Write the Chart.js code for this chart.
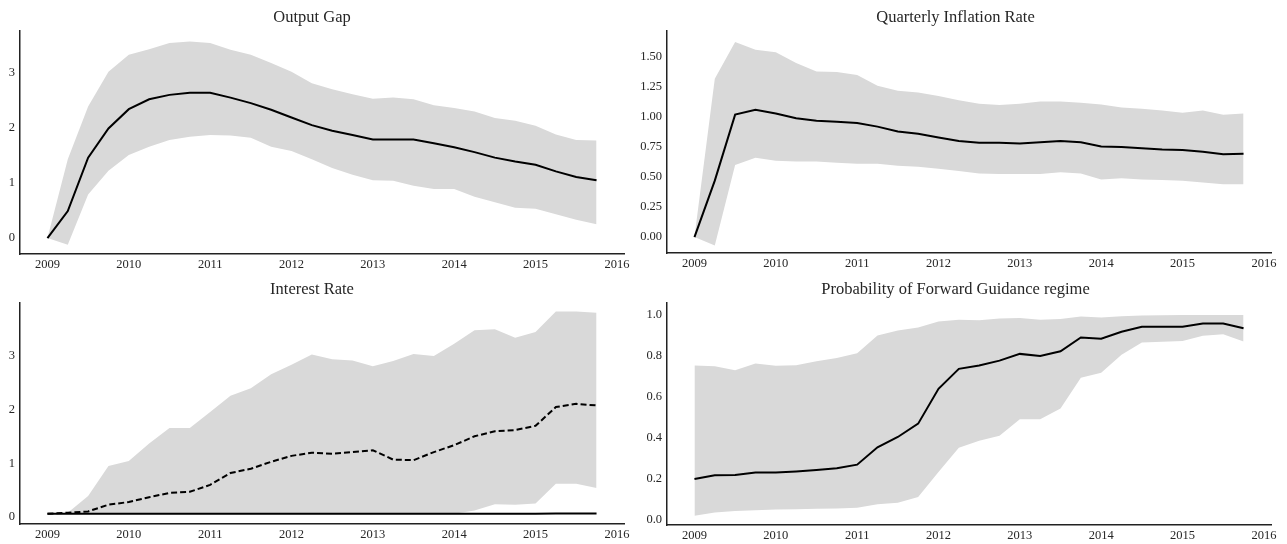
<!DOCTYPE html>
<html>
<head>
<meta charset="utf-8">
<script src="https://cdn.jsdelivr.net/npm/chart.js@4.4.1/dist/chart.umd.min.js"></script>
<style>
  body { margin: 0; background: #fff; }
  #wrap { position: relative; width: 1287px; height: 544px; }
  canvas { position: absolute; }
</style>
</head>
<body>
<div id="wrap">
  <canvas id="gapChart" width="640" height="272" style="left:0;top:0"></canvas>
  <canvas id="inflChart" width="647" height="272" style="left:640px;top:0"></canvas>
  <canvas id="rateChart" width="640" height="272" style="left:0;top:272px"></canvas>
  <canvas id="fgChart" width="647" height="272" style="left:640px;top:272px"></canvas>
</div>
<script>
const quarters = [2009.00, 2009.25, 2009.50, 2009.75, 2010.00, 2010.25, 2010.50, 2010.75,
                  2011.00, 2011.25, 2011.50, 2011.75, 2012.00, 2012.25, 2012.50, 2012.75,
                  2013.00, 2013.25, 2013.50, 2013.75, 2014.00, 2014.25, 2014.50, 2014.75,
                  2015.00, 2015.25, 2015.50, 2015.75];
const yearTicks = [2009, 2010, 2011, 2012, 2013, 2014, 2015, 2016];

// Output Gap
const gapMedian = [0, 0.49, 1.46, 1.99, 2.34, 2.52, 2.60, 2.64, 2.64, 2.55, 2.45, 2.33, 2.19, 2.05,
                   1.95, 1.87, 1.79, 1.79, 1.79, 1.72, 1.65, 1.56, 1.46, 1.39, 1.33, 1.21, 1.11, 1.05];
const gapUpper = [0, 1.43, 2.39, 3.02, 3.33, 3.43, 3.54, 3.57, 3.54, 3.42, 3.33, 3.18, 3.02, 2.81,
                  2.70, 2.61, 2.53, 2.55, 2.52, 2.41, 2.36, 2.30, 2.18, 2.13, 2.04, 1.88, 1.78, 1.77];
const gapLower = [0, -0.12, 0.79, 1.22, 1.51, 1.66, 1.78, 1.84, 1.87, 1.86, 1.82, 1.66, 1.58, 1.43,
                  1.27, 1.15, 1.05, 1.04, 0.95, 0.89, 0.89, 0.75, 0.65, 0.55, 0.53, 0.43, 0.33, 0.25];

// Quarterly Inflation Rate
const inflMedian = [0, 0.47, 1.02, 1.06, 1.03, 0.99, 0.97, 0.96, 0.95, 0.92, 0.88, 0.86, 0.83, 0.80,
                    0.785, 0.785, 0.78, 0.79, 0.80, 0.79, 0.755, 0.75, 0.74, 0.73, 0.725, 0.71, 0.69, 0.695];
const inflUpper = [0, 1.32, 1.625, 1.56, 1.54, 1.45, 1.38, 1.375, 1.35, 1.26, 1.22, 1.205, 1.175, 1.14,
                   1.11, 1.10, 1.11, 1.13, 1.13, 1.12, 1.105, 1.08, 1.07, 1.055, 1.035, 1.055, 1.02, 1.03];
const inflLower = [0, -0.07, 0.60, 0.66, 0.635, 0.63, 0.63, 0.62, 0.61, 0.61, 0.595, 0.585, 0.57, 0.55,
                   0.53, 0.525, 0.525, 0.525, 0.54, 0.53, 0.48, 0.49, 0.48, 0.475, 0.47, 0.455, 0.44, 0.44];

// Interest Rate
const rateSolid = [0.06, 0.06, 0.06, 0.06, 0.06, 0.06, 0.06, 0.06, 0.06, 0.06, 0.06, 0.06, 0.06, 0.06,
                   0.06, 0.06, 0.06, 0.06, 0.06, 0.06, 0.06, 0.06, 0.06, 0.06, 0.06, 0.065, 0.065, 0.065];
const rateDashed = [0.06, 0.08, 0.105, 0.23, 0.28, 0.37, 0.45, 0.47, 0.60, 0.82, 0.90, 1.03, 1.14, 1.20,
                    1.18, 1.21, 1.245, 1.07, 1.06, 1.21, 1.34, 1.505, 1.60, 1.62, 1.70, 2.05, 2.11, 2.08];
const rateUpper = [0.06, 0.08, 0.39, 0.95, 1.045, 1.37, 1.66, 1.66, 1.96, 2.26, 2.40, 2.66, 2.84, 3.03,
                   2.94, 2.92, 2.81, 2.91, 3.04, 3.00, 3.23, 3.48, 3.50, 3.34, 3.45, 3.83, 3.83, 3.81];
const rateLower = [0.06, 0.06, 0.06, 0.06, 0.06, 0.06, 0.06, 0.06, 0.06, 0.06, 0.06, 0.06, 0.06, 0.06,
                   0.06, 0.06, 0.06, 0.06, 0.06, 0.06, 0.06, 0.12, 0.24, 0.23, 0.25, 0.62, 0.62, 0.54];

// Probability of Forward Guidance regime
const fgMedian = [0.20, 0.218, 0.22, 0.232, 0.232, 0.237, 0.244, 0.253, 0.27, 0.355, 0.405, 0.47, 0.64, 0.737,
                  0.753, 0.777, 0.81, 0.80, 0.823, 0.89, 0.884, 0.918, 0.942, 0.942, 0.942, 0.958, 0.958, 0.935];
const fgUpper = [0.753, 0.75, 0.73, 0.763, 0.752, 0.755, 0.774, 0.79, 0.813, 0.90, 0.924, 0.939, 0.968, 0.976,
                 0.974, 0.982, 0.985, 0.976, 0.98, 0.992, 0.987, 0.994, 0.997, 0.998, 1.0, 1.0, 1.0, 1.0];
const fgLower = [0.021, 0.037, 0.044, 0.048, 0.052, 0.053, 0.055, 0.056, 0.06, 0.077, 0.085, 0.113, 0.234, 0.352,
                 0.387, 0.411, 0.492, 0.492, 0.544, 0.694, 0.718, 0.806, 0.866, 0.869, 0.873, 0.898, 0.906, 0.87];

const serif = "'Liberation Serif', 'DejaVu Serif', serif";
const textColor = '#262626';
const bandColor = '#d9d9d9';

function pts(vals) {
  return vals.map((v, i) => ({ x: quarters[i], y: v }));
}

function makeChart(id, spec) {
  const datasets = [];
  spec.lines.forEach(l => {
    datasets.push({
      data: pts(l.values),
      borderColor: '#000',
      borderWidth: 2,
      borderDash: l.dash || [],
      pointRadius: 0,
      fill: false,
      tension: 0
    });
  });
  // band: upper edge filled down to the lower edge
  datasets.push({
    data: pts(spec.upper),
    borderColor: 'rgba(0,0,0,0)',
    backgroundColor: bandColor,
    pointRadius: 0,
    fill: '+1',
    tension: 0
  });
  datasets.push({
    data: pts(spec.lower),
    borderColor: 'rgba(0,0,0,0)',
    pointRadius: 0,
    fill: false,
    tension: 0
  });

  new Chart(document.getElementById(id), {
    type: 'line',
    data: { datasets: datasets },
    options: {
      responsive: false,
      animation: false,
      devicePixelRatio: 1,
      layout: { padding: { left: 0, right: 16, top: 0, bottom: 0 } },
      plugins: {
        legend: { display: false },
        tooltip: { enabled: false },
        filler: { drawTime: 'beforeDatasetsDraw' },
        title: {
          display: true,
          text: spec.title,
          color: textColor,
          font: { family: serif, size: 16.5, weight: 'normal' },
          padding: { top: 8, bottom: 3.2 }
        }
      },
      scales: {
        x: {
          type: 'linear',
          min: 2008.6625,
          max: 2016.0875,
          grid: { display: false, drawTicks: false },
          border: { display: true, color: '#222', width: 1.5 },
          ticks: {
            color: textColor,
            font: { family: serif, size: 12.5 },
            padding: 3,
            maxRotation: 0,
            autoSkip: false,
            callback: v => String(v)
          },
          afterBuildTicks: s => { s.ticks = yearTicks.map(v => ({ value: v })); },
          afterFit: s => { s.height = spec.xAxisH; }
        },
        y: {
          type: 'linear',
          min: spec.yMin,
          max: spec.yMax,
          grid: { display: false, drawTicks: false },
          border: { display: true, color: '#222', width: 1.5 },
          ticks: {
            color: textColor,
            font: { family: serif, size: 12.5 },
            padding: 5,
            autoSkip: false,
            callback: v => v.toFixed(spec.decimals)
          },
          afterBuildTicks: s => { s.ticks = spec.yTicks.map(v => ({ value: v })); },
          afterFit: s => { s.width = spec.yAxisW; }
        }
      }
    }
  });
}

makeChart('gapChart', {
  title: 'Output Gap',
  lines: [{ values: gapMedian }],
  upper: gapUpper, lower: gapLower,
  yMin: -0.29, yMax: 3.76, yTicks: [0, 1, 2, 3], decimals: 0,
  yAxisW: 20, xAxisH: 18
});

makeChart('inflChart', {
  title: 'Quarterly Inflation Rate',
  lines: [{ values: inflMedian }],
  upper: inflUpper, lower: inflLower,
  yMin: -0.133, yMax: 1.717, yTicks: [0, 0.25, 0.5, 0.75, 1.0, 1.25, 1.5], decimals: 2,
  yAxisW: 27, xAxisH: 19
});

makeChart('rateChart', {
  title: 'Interest Rate',
  lines: [{ values: rateSolid }, { values: rateDashed, dash: [6, 3] }],
  upper: rateUpper, lower: rateLower,
  yMin: -0.13, yMax: 3.99, yTicks: [0, 1, 2, 3], decimals: 0,
  yAxisW: 20, xAxisH: 20
});

makeChart('fgChart', {
  title: 'Probability of Forward Guidance regime',
  lines: [{ values: fgMedian }],
  upper: fgUpper, lower: fgLower,
  yMin: -0.024, yMax: 1.058, yTicks: [0, 0.2, 0.4, 0.6, 0.8, 1.0], decimals: 1,
  yAxisW: 27, xAxisH: 19
});
</script>
</body>
</html>
